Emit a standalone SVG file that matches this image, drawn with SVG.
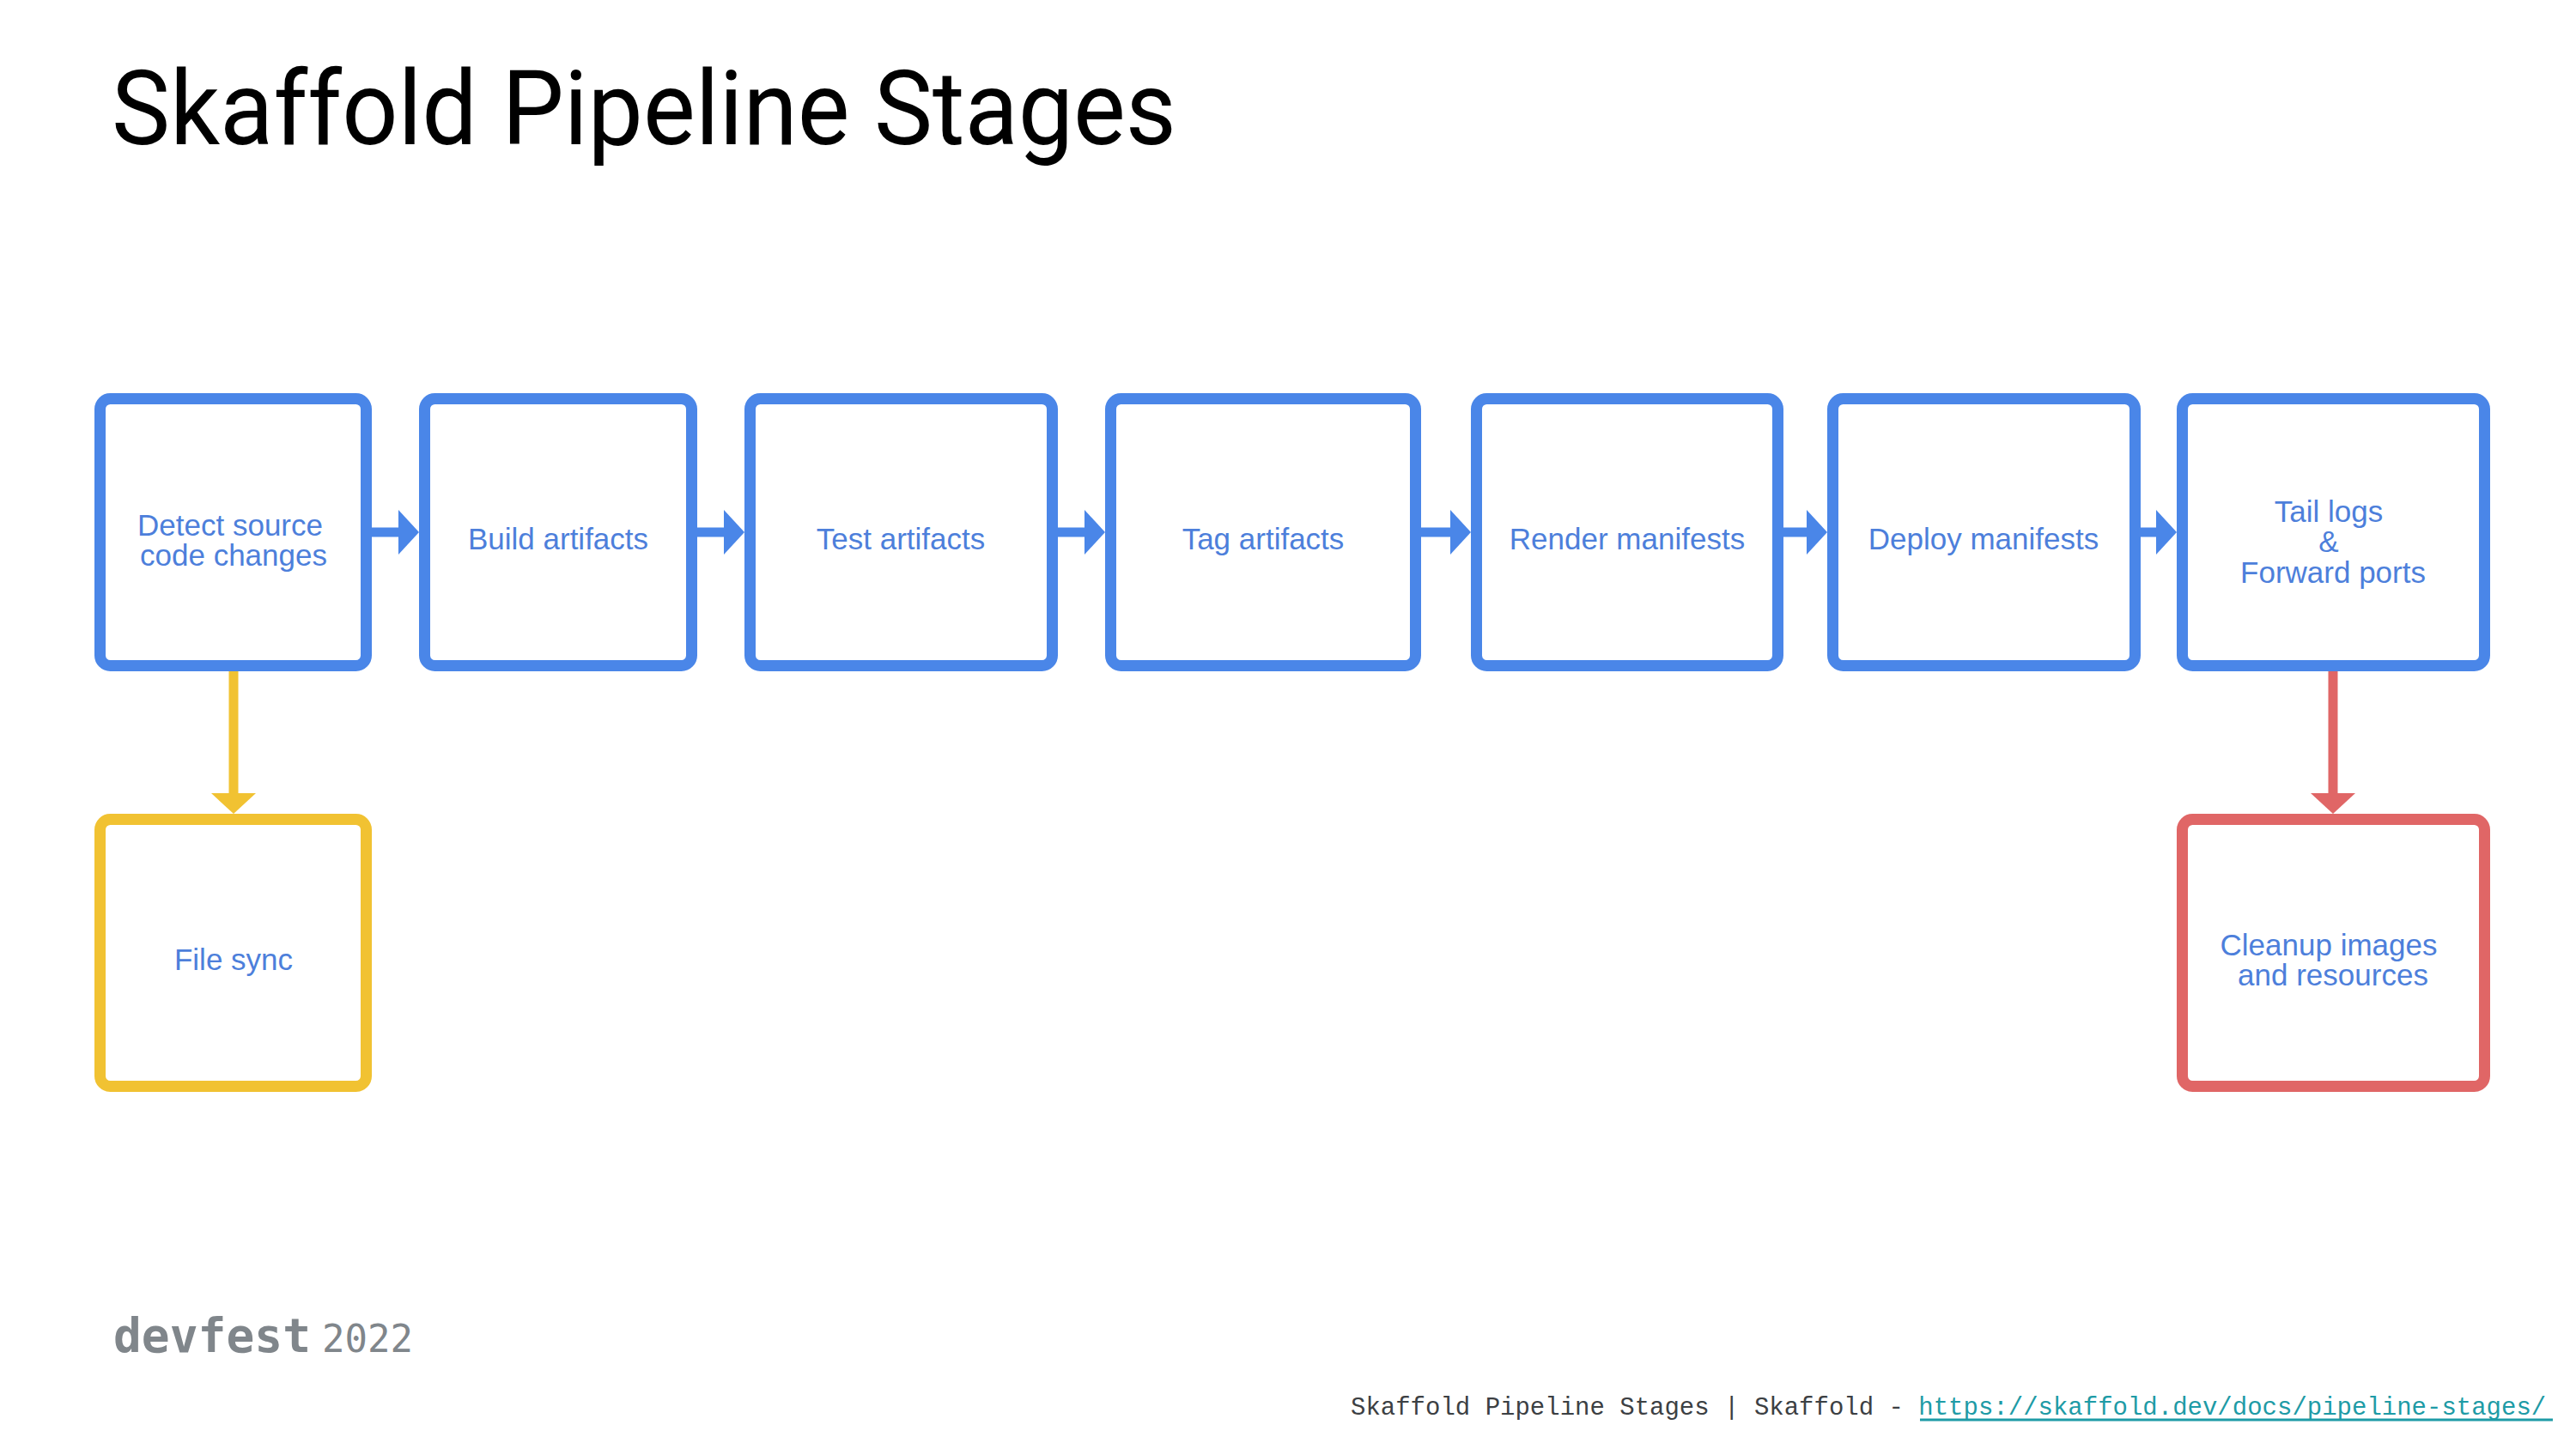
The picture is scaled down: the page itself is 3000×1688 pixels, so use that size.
<svg xmlns="http://www.w3.org/2000/svg" width="3000" height="1688" viewBox="0 0 3000 1688">
<style>
.box{fill:#ffffff;stroke-width:13}
.blue{stroke:#4a86e8}
.yellow{stroke:#f1c232}
.red{stroke:#e06666}
.lbl{font-family:"Liberation Sans",Arial,sans-serif;font-size:35px;fill:#4d7fdb;text-anchor:middle}
.conn{fill:none;stroke-width:11}
</style>
<defs>
<marker id="ahB" markerUnits="userSpaceOnUse" markerWidth="24" markerHeight="52" refX="12" refY="26" orient="auto"><path d="M0,0 L24,26 L0,52 Z" fill="#4a86e8"/></marker>
<marker id="ahY" markerUnits="userSpaceOnUse" markerWidth="24" markerHeight="52" refX="12" refY="26" orient="auto"><path d="M0,0 L24,26 L0,52 Z" fill="#f1c232"/></marker>
<marker id="ahR" markerUnits="userSpaceOnUse" markerWidth="24" markerHeight="52" refX="12" refY="26" orient="auto"><path d="M0,0 L24,26 L0,52 Z" fill="#e06666"/></marker>
</defs>
<rect x="0" y="0" width="3000" height="1688" fill="#ffffff"/>
<text x="130" y="168" font-family="Roboto,'Liberation Sans',sans-serif" font-size="120" fill="#000000" textLength="1240" lengthAdjust="spacingAndGlyphs">Skaffold Pipeline Stages</text>
<g id="connectors">
<line class="conn blue" x1="433" y1="620" x2="476" y2="620" marker-end="url(#ahB)"/>
<line class="conn blue" x1="812" y1="620" x2="855" y2="620" marker-end="url(#ahB)"/>
<line class="conn blue" x1="1232" y1="620" x2="1275" y2="620" marker-end="url(#ahB)"/>
<line class="conn blue" x1="1655" y1="620" x2="1701" y2="620" marker-end="url(#ahB)"/>
<line class="conn blue" x1="2077" y1="620" x2="2116" y2="620" marker-end="url(#ahB)"/>
<line class="conn blue" x1="2493" y1="620" x2="2523" y2="620" marker-end="url(#ahB)"/>
<line class="conn yellow" x1="272" y1="782" x2="272" y2="936" marker-end="url(#ahY)"/>
<line class="conn red" x1="2717" y1="782" x2="2717" y2="936" marker-end="url(#ahR)"/>
</g>
<g id="detect">
<rect class="box blue" x="116.5" y="464.5" width="310" height="311" rx="12"/>
<text class="lbl" x="268" y="624">Detect source</text>
<text class="lbl" x="272" y="659">code changes</text>
</g>
<g id="build">
<rect class="box blue" x="494.5" y="464.5" width="311" height="311" rx="12"/>
<text class="lbl" x="650" y="640">Build artifacts</text>
</g>
<g id="test">
<rect class="box blue" x="873.5" y="464.5" width="352" height="311" rx="12"/>
<text class="lbl" x="1049" y="640">Test artifacts</text>
</g>
<g id="tag">
<rect class="box blue" x="1293.5" y="464.5" width="355" height="311" rx="12"/>
<text class="lbl" x="1471" y="640">Tag artifacts</text>
</g>
<g id="render">
<rect class="box blue" x="1719.5" y="464.5" width="351" height="311" rx="12"/>
<text class="lbl" x="1895" y="640">Render manifests</text>
</g>
<g id="deploy">
<rect class="box blue" x="2134.5" y="464.5" width="352" height="311" rx="12"/>
<text class="lbl" x="2310" y="640">Deploy manifests</text>
</g>
<g id="tail">
<rect class="box blue" x="2541.5" y="464.5" width="352" height="311" rx="12"/>
<text class="lbl" x="2712" y="608">Tail logs</text>
<text class="lbl" x="2712" y="643">&amp;</text>
<text class="lbl" x="2717" y="679">Forward ports</text>
</g>
<g id="filesync">
<rect class="box yellow" x="116.5" y="954.5" width="310" height="311" rx="12"/>
<text class="lbl" x="272" y="1130">File sync</text>
</g>
<g id="cleanup">
<rect class="box red" x="2541.5" y="954.5" width="352" height="311" rx="12"/>
<text class="lbl" x="2712" y="1113">Cleanup images</text>
<text class="lbl" x="2717" y="1148">and resources</text>
</g>
<g id="footer">
<text x="132" y="1575" font-family="'DejaVu Sans Mono',monospace" font-weight="bold" font-size="55" fill="#80868b" textLength="230" lengthAdjust="spacingAndGlyphs">devfest</text>
<text x="375" y="1575" font-family="'DejaVu Sans Mono',monospace" font-size="44" fill="#80868b" textLength="106" lengthAdjust="spacingAndGlyphs">2022</text>
<text x="1573" y="1648" font-family="'Liberation Mono',monospace" font-size="29" fill="#3c4043">Skaffold Pipeline Stages | Skaffold - <tspan fill="#1e9ba6">https://skaffold.dev/docs/pipeline-stages/</tspan></text>
<line x1="2236" y1="1654" x2="2973" y2="1654" stroke="#1e9ba6" stroke-width="3"/>
</g>
</svg>
